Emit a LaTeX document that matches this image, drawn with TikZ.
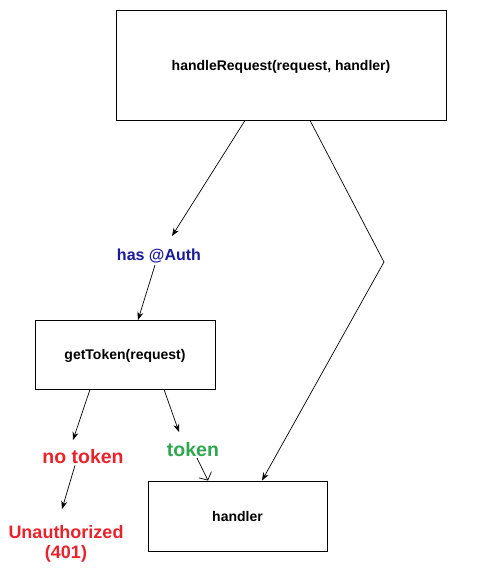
\documentclass[tikz,border=0pt]{standalone}
\usepackage{fontspec}
\setmainfont{Liberation Sans}
\usetikzlibrary{arrows.meta}
\definecolor{authblue}{HTML}{1A1A9C}
\definecolor{errred}{HTML}{E8232B}
\definecolor{okgreen}{HTML}{2EA84F}
\tikzset{
  box/.style={draw, line width=0.9pt, minimum width=#1, inner sep=0pt, font=\fontsize{14}{16}\selectfont\bfseries},
  lbl/.style={inner sep=1pt, font=\fontsize{#1}{#1}\selectfont\bfseries},
  arr/.style={line width=0.7pt, -{Stealth[length=8pt,width=6pt]}},
  barb/.style={line width=0.7pt, -{Straight Barb[length=6pt,width=14pt]}},
}
\begin{document}
\begin{tikzpicture}[x=1pt,y=-1pt]
\useasboundingbox (0,0) rectangle (492,587);
\fill[white] (0,0) rectangle (492,587);
\node[box=330pt, minimum height=110pt] (req) at (281,65) {};
\node[inner sep=0pt, font=\fontsize{14}{16}\selectfont\bfseries] (reqt) at (281,67) {handleRequest(request, handler)};
\node[box=180pt, minimum height=69pt] (get) at (125,354.5) {};
\node[inner sep=0pt, font=\fontsize{14}{16}\selectfont\bfseries] (gett) at (125,356) {getToken(request)};
\node[box=179pt, minimum height=70pt] (hdl) at (237.5,516) {handler};
\node[lbl=16, text=authblue] (auth) at (159,255.5) {has @Auth};
\node[lbl=19.5, text=errred] (nt) at (83,457) {no token};
\node[lbl=19.5, text=okgreen] (tok) at (193,450) {token};
\node[lbl=18, text=errred, align=center, font=\fontsize{18}{20}\selectfont\bfseries] (una) at (66,544) {Unauthorized\\(401)};
\coordinate (bend) at (384,262);
\draw[arr] (req.south -| 245,0) -- (172,236);
\draw[arr] (155,265) -- (138,320);
\draw[arr] (get.south -| 90,0) -- (73,440);
\draw[arr] (get.south -| 164,0) -- (179,432);
\draw[arr] (nt.south -| 75,0) -- (62,509);
\draw[barb] (197,458) -- (hdl.north -| 208,0);
\draw[arr] (req.south -| 310,0) -- (bend) -- (hdl.north -| 262,0);
\end{tikzpicture}
\end{document}
